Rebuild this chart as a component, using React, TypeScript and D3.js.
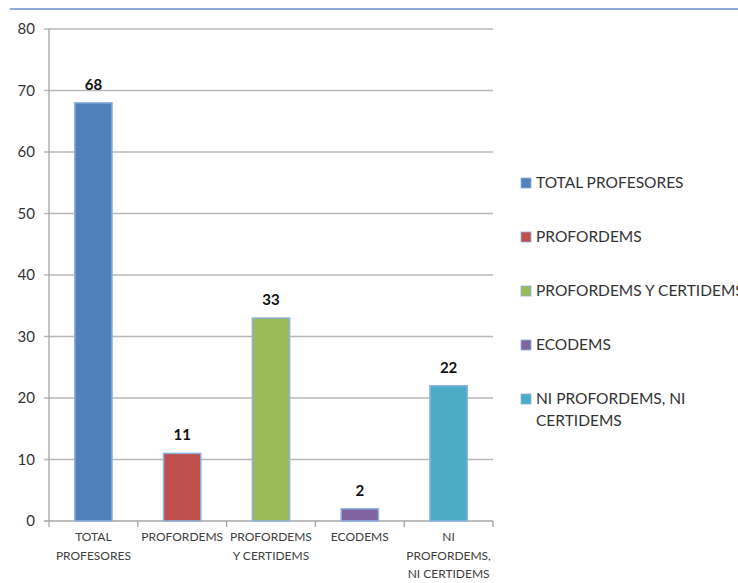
import React from "react";
import * as d3 from "d3";

const categories = ["TOTAL PROFESORES", "PROFORDEMS", "PROFORDEMS Y CERTIDEMS", "ECODEMS", "NI PROFORDEMS, NI CERTIDEMS"];
const axisLabels = [["TOTAL", "PROFESORES"], ["PROFORDEMS"], ["PROFORDEMS", "Y CERTIDEMS"], ["ECODEMS"], ["NI", "PROFORDEMS,", "NI CERTIDEMS"]];
const legendLabels = [["TOTAL PROFESORES"], ["PROFORDEMS"], ["PROFORDEMS Y CERTIDEMS"], ["ECODEMS"], ["NI PROFORDEMS, NI", "CERTIDEMS"]];
const values = [68, 11, 33, 2, 22];
const colors = ["#4f81bd", "#c0504d", "#9bbb59", "#8064a2", "#4bacc6"];
const yTicks = [0, 10, 20, 30, 40, 50, 60, 70, 80];

const W = 738;
const H = 583;
const left = 49;
const right = 493;
const top = 29;
const bottom = 521;
const font = "Lato, 'Open Sans', sans-serif";

export default function App() {
  const x = d3.scaleBand<string>().domain(categories).range([left, right]).padding(0);
  const y = d3.scaleLinear().domain([0, 80]).range([bottom, top]);
  const bw = x.bandwidth();
  const barW = bw * 0.42;
  const bounds = d3.range(categories.length + 1).map((i) => left + i * bw);

  return (
    <svg width={W} height={H} style={{ position: "absolute", left: 0, top: 0, background: "#fff" }}>
      <line x1={10} x2={W} y1={9} y2={9} stroke="#8eacd6" strokeWidth={2} />
      {yTicks.map((t) => (
        <g key={t}>
          <line x1={left - 5} x2={right} y1={y(t)} y2={y(t)} stroke={t === 0 ? "#a6a6a6" : "#b8b8b8"} strokeWidth={1.3} />
          <text x={35} y={y(t)} dy="0.35em" textAnchor="end" fontFamily={font} fontSize={15} fill="#333">
            {t}
          </text>
        </g>
      ))}
      <line x1={left} x2={left} y1={top} y2={bottom} stroke="#a6a6a6" strokeWidth={1.3} />
      {bounds.map((b, i) => (
        <line key={i} x1={b} x2={b} y1={bottom} y2={bottom + 6} stroke="#a6a6a6" strokeWidth={1.3} />
      ))}
      {categories.map((c, i) => {
        const cx = (x(c) as number) + bw / 2;
        const yv = y(values[i]);
        return (
          <g key={c}>
            <rect x={cx - barW / 2} y={yv} width={barW} height={bottom - yv} fill={colors[i]} stroke="#8db3e2" strokeWidth={1.5} />
            <text x={cx} y={yv - 13} textAnchor="middle" fontFamily={font} fontWeight="bold" fontSize={15} fill="#111">
              {values[i]}
            </text>
            {axisLabels[i].map((l, j) => (
              <text key={j} x={cx} y={541 + j * 18.5} textAnchor="middle" fontFamily={font} fontSize={12} fill="#404040">
                {l}
              </text>
            ))}
          </g>
        );
      })}
      {legendLabels.map((lines, i) => {
        const ly = 183 + i * 54;
        return (
          <g key={i}>
            <rect x={521} y={ly - 5} width={10} height={10} fill={colors[i]} stroke="#8db3e2" strokeWidth={0.8} />
            {lines.map((l, j) => (
              <text key={j} x={536} y={ly + j * 22} dy="0.35em" fontFamily={font} fontSize={15.5} fill="#333">
                {l}
              </text>
            ))}
          </g>
        );
      })}
    </svg>
  );
}
